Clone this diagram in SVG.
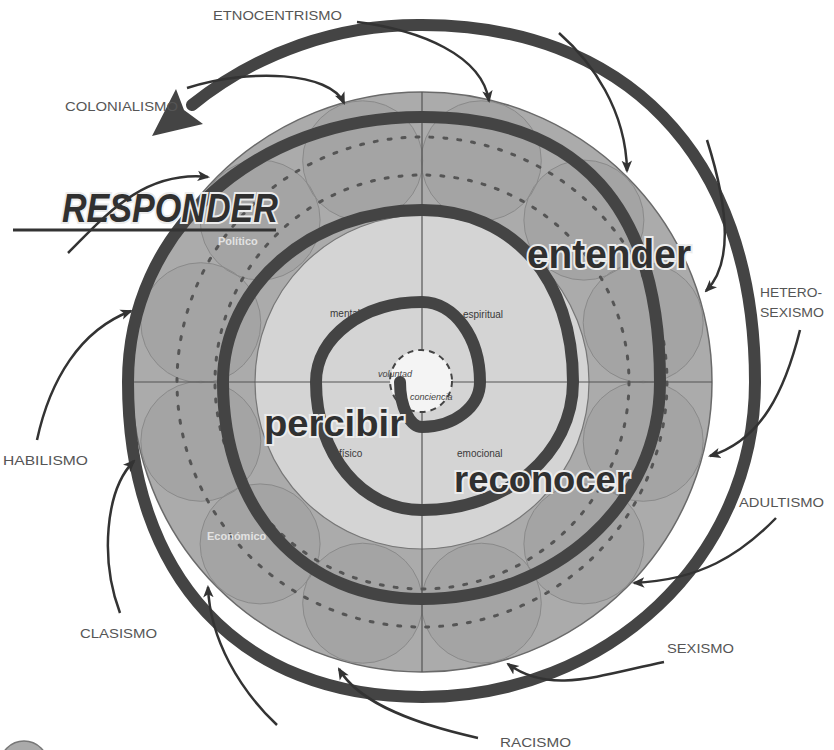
<svg xmlns="http://www.w3.org/2000/svg" width="834" height="750" viewBox="0 0 834 750">
<style>
.lbl{font-family:"Liberation Sans",Arial,sans-serif;font-size:13px;fill:#555}
.big{font-family:"Liberation Sans",Arial,sans-serif;font-weight:bold;fill:#303030;stroke:#ececec;stroke-width:4;paint-order:stroke}
.sm{font-family:"Liberation Sans",Arial,sans-serif;font-size:10px;fill:#3a3a3a}
.cen{font-family:"Liberation Sans",Arial,sans-serif;font-size:9px;font-style:italic;fill:#444}
.faint{font-family:"Liberation Sans",Arial,sans-serif;font-size:11px;font-weight:bold;fill:#e2e2e2}
.conn{fill:none;stroke:#333;stroke-width:2.5;marker-end:url(#ah)}
.band{fill:none;stroke:#444;stroke-width:12;stroke-linecap:round}
.rc{fill:#8f8f8f;fill-opacity:0.22;stroke:#8a8a8a;stroke-width:1}
.dash{fill:none;stroke:#555;stroke-width:3;stroke-dasharray:3 11;stroke-linecap:round}
</style>
<defs>
<marker id="ah" viewBox="0 0 12 10" refX="10" refY="5" markerWidth="5" markerHeight="5" orient="auto" markerUnits="strokeWidth">
<path d="M0,0 L12,5 L0,10 L3,5 z" fill="#333"/>
</marker>
</defs>
<rect width="834" height="750" fill="#fff"/>
<g id="disk">
<circle cx="422" cy="382" r="290" fill="#ababab" stroke="#6a6a6a" stroke-width="1.5"/>
<g id="ring-circles">
<circle class="rc" cx="643.2" cy="441.3" r="60"/>
<circle class="rc" cx="583.9" cy="543.9" r="60"/>
<circle class="rc" cx="481.3" cy="603.2" r="60"/>
<circle class="rc" cx="362.7" cy="603.2" r="60"/>
<circle class="rc" cx="260.1" cy="543.9" r="60"/>
<circle class="rc" cx="200.8" cy="441.3" r="60"/>
<circle class="rc" cx="200.8" cy="322.7" r="60"/>
<circle class="rc" cx="260.1" cy="220.1" r="60"/>
<circle class="rc" cx="362.7" cy="160.8" r="60"/>
<circle class="rc" cx="481.3" cy="160.8" r="60"/>
<circle class="rc" cx="583.9" cy="220.1" r="60"/>
<circle class="rc" cx="643.2" cy="322.7" r="60"/>
</g>
<circle class="dash" cx="422" cy="382" r="207"/>
<circle class="dash" cx="422" cy="382" r="245"/>
<circle cx="422" cy="382" r="167" fill="#d4d4d4" stroke="#777" stroke-width="1.2"/>
<line x1="422" y1="92" x2="422" y2="672" stroke="#555" stroke-width="1.2"/>
<line x1="132" y1="382" x2="712" y2="382" stroke="#555" stroke-width="1.2"/>
<circle cx="421" cy="381" r="31" fill="#f4f4f4" stroke="#444" stroke-width="2" stroke-dasharray="6 5"/>
<text class="faint" x="218" y="245">Político</text>
<text class="faint" x="207" y="540">Económico</text>
<text class="sm" x="330" y="317">mental</text>
<text class="sm" x="463" y="318">espiritual</text>
<text class="sm" x="339" y="457">físico</text>
<text class="sm" x="457" y="457">emocional</text>
<text class="cen" x="378" y="377">voluntad</text>
<text class="cen" x="410" y="400">conciencia</text>
</g>
<g id="spiral">
<path class="band" d="M 400 382 C 400 407 410 427 422 427 C 454 427 480 407 480 382 C 480 337 454 302 422 302 C 363 302 316 337 316 382 C 316 455 362 510 422 510 C 507 510 573 454 573 382 C 573 279 513 210 422 210 C 311 210 223 286 223 382 C 223 512 303 599 422 599 C 555 599 660 504 660 382 C 660 207 579 117 422 117 C 254 117 128 231 128 382 C 128 577 240 697 422 697 C 608 697 755 558 755 382 C 755 150 620 25 422 25 A 360 360 0 0 0 192 105"/>
<path d="M 152 136 L 176 89 L 184 110 L 203 124 Z" fill="#444"/>
</g>
<g id="stages">
<text class="big" x="527" y="268" font-size="40" textLength="164" lengthAdjust="spacingAndGlyphs">entender</text>
<text class="big" x="264" y="436" font-size="36" textLength="140" lengthAdjust="spacingAndGlyphs">percibir</text>
<text class="big" x="454" y="492" font-size="37" textLength="176" lengthAdjust="spacingAndGlyphs">reconocer</text>
</g>
<g id="responder">
<text class="big" x="62" y="222" font-size="40" font-style="italic" textLength="216" lengthAdjust="spacingAndGlyphs">RESPONDER</text>
<line x1="13" y1="230" x2="276" y2="230" stroke="#333" stroke-width="3"/>
</g>
<g id="labels">
<text class="lbl" x="213" y="20" textLength="129" lengthAdjust="spacingAndGlyphs">ETNOCENTRISMO</text>
<text class="lbl" x="65" y="111" textLength="113" lengthAdjust="spacingAndGlyphs">COLONIALISMO</text>
<text class="lbl" x="760" y="297" textLength="62" lengthAdjust="spacingAndGlyphs">HETERO-</text>
<text class="lbl" x="760" y="317" textLength="64" lengthAdjust="spacingAndGlyphs">SEXISMO</text>
<text class="lbl" x="3" y="465" textLength="85" lengthAdjust="spacingAndGlyphs">HABILISMO</text>
<text class="lbl" x="739" y="507" textLength="85" lengthAdjust="spacingAndGlyphs">ADULTISMO</text>
<text class="lbl" x="80" y="638" textLength="77" lengthAdjust="spacingAndGlyphs">CLASISMO</text>
<text class="lbl" x="667" y="653" textLength="67" lengthAdjust="spacingAndGlyphs">SEXISMO</text>
<text class="lbl" x="500" y="747" textLength="71" lengthAdjust="spacingAndGlyphs">RACISMO</text>
</g>
<g id="connectors">
<path class="conn" d="M 187 88 C 250 68, 330 72, 344 103"/>
<path class="conn" d="M 357 22 C 420 30, 482 55, 489 101"/>
<path class="conn" d="M 559 33 C 592 62, 626 110, 627 171"/>
<path class="conn" d="M 707 140 C 726 200, 735 262, 706 291"/>
<path class="conn" d="M 800 330 C 785 390, 762 440, 710 456"/>
<path class="conn" d="M 776 518 C 740 555, 700 580, 634 583"/>
<path class="conn" d="M 664 662 C 600 675, 550 695, 508 664"/>
<path class="conn" d="M 478 738 C 420 725, 360 705, 339 669"/>
<path class="conn" d="M 277 725 C 240 690, 210 640, 208 587"/>
<path class="conn" d="M 120 613 C 100 560, 105 490, 134 461"/>
<path class="conn" d="M 37 440 C 50 380, 80 330, 131 311"/>
<path class="conn" d="M 68 253 C 100 222, 140 170, 208 177"/>
</g>
<circle cx="24" cy="765" r="24" fill="#aaa" stroke="#777" stroke-width="1.5"/>
</svg>
